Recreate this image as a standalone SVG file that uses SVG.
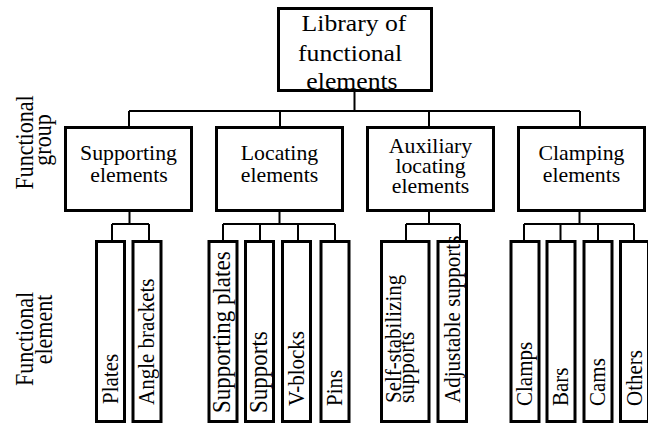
<svg xmlns="http://www.w3.org/2000/svg" width="648" height="427" viewBox="0 0 648 427">
<style>
.box{fill:#fff;stroke:#000;stroke-width:3}
.con{fill:none;stroke:#000;stroke-width:2}
text{font-family:'Liberation Serif','Times New Roman',Times,serif;fill:#000}
.t{font-size:24px;text-anchor:middle}
.g{font-size:20px;text-anchor:middle}
.e{font-size:21px}
.e2{font-size:23px}
.l{font-size:22px;text-anchor:middle}
</style>
<rect width="648" height="427" fill="#fff"/>
<g id="connectors">
<path class="con" d="M354.5,92V111M129,111H580M129,111V126M280,111V126M429,111V126M580,111V126"/>
<path class="con" d="M129.5,212V224M112,224H149M112,224V240M149,224V240"/>
<path class="con" d="M279.5,212V224M223,224H335M223,224V240M260,224V240M298,224V240M335,224V240"/>
<path class="con" d="M429,212V224M406,224H460M406,224V240M460,224V240"/>
<path class="con" d="M579.5,212V224M524,224H634M524,224V240M560.5,224V240M598,224V240M634,224V240"/>
</g>
<g id="labels">
<text class="l" transform="translate(33,142.5) scale(1.15,1) rotate(-90)">Functional</text>
<text class="l" transform="translate(51,140) scale(1.15,1) rotate(-90)">group</text>
<text class="l" transform="translate(33,339) scale(1.15,1) rotate(-90)">Functional</text>
<text class="l" transform="translate(51.5,329.5) scale(1.15,1) rotate(-90)">element</text>
</g>
<g id="root">
<rect class="box" x="278.5" y="8.5" width="153" height="82"/>
<text class="t" transform="translate(354,31) scale(1.07,1)"><tspan x="0" y="0">Library of</tspan><tspan x="-3.7" y="30">functional</tspan><tspan x="-1.9" y="58">elements</tspan></text>
</g>
<g id="group-supporting">
<rect class="box" x="65.5" y="127.5" width="126" height="83"/>
<text class="g" transform="translate(128.5,160) scale(1.09,1)"><tspan x="0" y="0">Supporting</tspan><tspan x="0.5" y="22">elements</tspan></text>
</g>
<g id="group-locating">
<rect class="box" x="216.5" y="127.5" width="126" height="83"/>
<text class="g" transform="translate(279.5,160) scale(1.09,1)"><tspan x="0" y="0">Locating</tspan><tspan x="0" y="22">elements</tspan></text>
</g>
<g id="group-auxiliary">
<rect class="box" x="367.5" y="127.5" width="126" height="83"/>
<text class="g" transform="translate(430.5,153) scale(1.09,1)"><tspan x="0" y="0">Auxiliary</tspan><tspan x="0" y="20">locating</tspan><tspan x="0" y="40">elements</tspan></text>
</g>
<g id="group-clamping">
<rect class="box" x="518.5" y="127.5" width="126" height="83"/>
<text class="g" transform="translate(581.5,160) scale(1.09,1)"><tspan x="0" y="0">Clamping</tspan><tspan x="0" y="22">elements</tspan></text>
</g>
<g id="el-plates">
<rect class="box" x="96.5" y="241.5" width="28" height="180"/>
<text class="e" transform="translate(118,404) scale(1.1,1) rotate(-90)">Plates</text>
</g>
<g id="el-angle-brackets">
<rect class="box" x="133" y="241.5" width="28" height="180"/>
<text class="e" transform="translate(154,405) scale(1.1,1) rotate(-90)">Angle brackets</text>
</g>
<g id="el-supporting-plates">
<rect class="box" x="209" y="241.5" width="28" height="180"/>
<text class="e2" transform="translate(230,413) scale(1.05,1) rotate(-90)">Supporting plates</text>
</g>
<g id="el-supports">
<rect class="box" x="245.5" y="241.5" width="28" height="180"/>
<text class="e2" transform="translate(266.5,413) scale(1.05,1) rotate(-90)">Supports</text>
</g>
<g id="el-v-blocks">
<rect class="box" x="282.5" y="241.5" width="28" height="180"/>
<text class="e" transform="translate(303.5,406) scale(1.1,1) rotate(-90)">V-blocks</text>
</g>
<g id="el-pins">
<rect class="box" x="321" y="241.5" width="28" height="180"/>
<text class="e" transform="translate(342,406) scale(1.1,1) rotate(-90)">Pins</text>
</g>
<g id="el-self-stabilizing">
<rect class="box" x="381.5" y="241.5" width="47.5" height="180"/>
<text class="e" transform="translate(401,403) scale(1.1,1) rotate(-90)"><tspan x="0" y="0">Self-stabilizing</tspan><tspan x="0" y="11.8">supports</tspan></text>
</g>
<g id="el-adjustable">
<rect class="box" x="438" y="241.5" width="28.5" height="180"/>
<text class="e" transform="translate(459.5,403) scale(1.1,1) rotate(-90)">Adjustable supports</text>
</g>
<g id="el-clamps">
<rect class="box" x="511" y="241.5" width="28" height="180"/>
<text class="e" transform="translate(532,406) scale(1.1,1) rotate(-90)">Clamps</text>
</g>
<g id="el-bars">
<rect class="box" x="547" y="241.5" width="28" height="180"/>
<text class="e" transform="translate(568,406) scale(1.1,1) rotate(-90)">Bars</text>
</g>
<g id="el-cams">
<rect class="box" x="584" y="241.5" width="28" height="180"/>
<text class="e" transform="translate(605,406) scale(1.1,1) rotate(-90)">Cams</text>
</g>
<g id="el-others">
<rect class="box" x="620.5" y="241.5" width="28" height="180"/>
<text class="e" transform="translate(641.5,406) scale(1.1,1) rotate(-90)">Others</text>
</g>
</svg>
